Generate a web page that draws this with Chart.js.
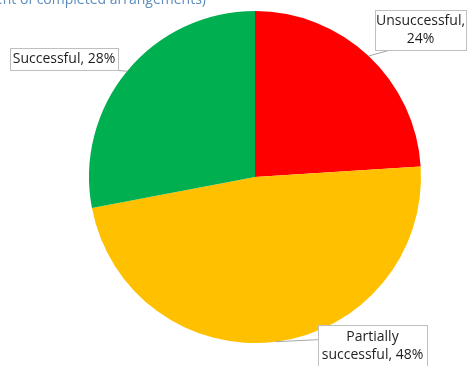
<!DOCTYPE html>
<html>
<head>
<meta charset="utf-8">
<script src="https://cdn.jsdelivr.net/npm/chart.js@4.4.1/dist/chart.umd.min.js"></script>
<style>
  html, body { margin: 0; padding: 0; background: #fff; }
  #wrap { width: 469px; height: 366px; position: relative; }
</style>
</head>
<body>
<div id="wrap"><canvas id="c" width="469" height="366"></canvas></div>
<script>
// Outcome categories and their shares (percent)
const categories = ['Unsuccessful', 'Partially successful', 'Successful'];
const shares = [24, 48, 28];
const sliceColors = ['#ff0000', '#ffc000', '#00b050'];

// Callout text lines for each slice
const calloutLines = [
  ['Unsuccessful,', '24%'],
  ['Partially', 'successful, 48%'],
  ['Successful, 28%']
];

// Callout placement relative to the pie centre, and where the leader attaches on the box
const calloutLayout = [
  { dx: 165.5, dy: -147, w: 91, h: 40, ax: 0.17, ay: 1 },
  { dx: 117.5, dy: 169, w: 109, h: 42, ax: 0, ay: 0.35 },
  { dx: -191, dy: -118, w: 108, h: 22, ax: 0.95, ay: 1 }
];

const subtitle = '(percent of completed arrangements)';

const calloutPlugin = {
  id: 'callouts',
  afterDatasetsDraw(chart) {
    const ctx = chart.ctx;
    const meta = chart.getDatasetMeta(0);
    ctx.save();
    // clipped subtitle above the pie
    ctx.font = '14px "Open Sans", sans-serif';
    ctx.fillStyle = '#5b8bbd';
    ctx.textAlign = 'right';
    ctx.textBaseline = 'alphabetic';
    ctx.fillText(subtitle, 206, 4);

    meta.data.forEach((arc, i) => {
      const p = arc.getProps(['x', 'y', 'startAngle', 'endAngle', 'outerRadius'], true);
      const mid = (p.startAngle + p.endAngle) / 2;
      const ex = p.x + Math.cos(mid) * p.outerRadius;
      const ey = p.y + Math.sin(mid) * p.outerRadius;
      const L = calloutLayout[i];
      const left = p.x + L.dx - L.w / 2;
      const top = p.y + L.dy - L.h / 2;
      const sx = left + L.ax * L.w;
      const sy = top + L.ay * L.h;

      // leader line
      ctx.strokeStyle = '#a6a6a6';
      ctx.lineWidth = 1;
      ctx.beginPath();
      ctx.moveTo(sx, sy);
      ctx.lineTo(ex, ey);
      ctx.stroke();

      // box
      ctx.fillStyle = '#ffffff';
      ctx.fillRect(left, top, L.w, L.h);
      ctx.strokeStyle = '#bfbfbf';
      ctx.strokeRect(Math.round(left) + 0.5, Math.round(top) + 0.5, Math.round(L.w), Math.round(L.h));

      // text
      ctx.fillStyle = '#1e1e1e';
      ctx.font = '14px "Open Sans", sans-serif';
      ctx.textAlign = 'center';
      ctx.textBaseline = 'middle';
      const lines = calloutLines[i];
      const lh = 18;
      const cy = top + L.h / 2 - (lines.length - 1) * lh / 2;
      lines.forEach((t, k) => ctx.fillText(t, left + L.w / 2, cy + k * lh));
    });
    ctx.restore();
  }
};

new Chart(document.getElementById('c'), {
  type: 'pie',
  data: {
    labels: categories,
    datasets: [{
      data: shares,
      backgroundColor: sliceColors,
      borderWidth: 0
    }]
  },
  options: {
    responsive: false,
    animation: false,
    layout: { padding: { left: 89, right: 48, top: 11, bottom: 23 } },
    plugins: {
      legend: { display: false },
      tooltip: { enabled: false }
    }
  },
  plugins: [calloutPlugin]
});
</script>
</body>
</html>
